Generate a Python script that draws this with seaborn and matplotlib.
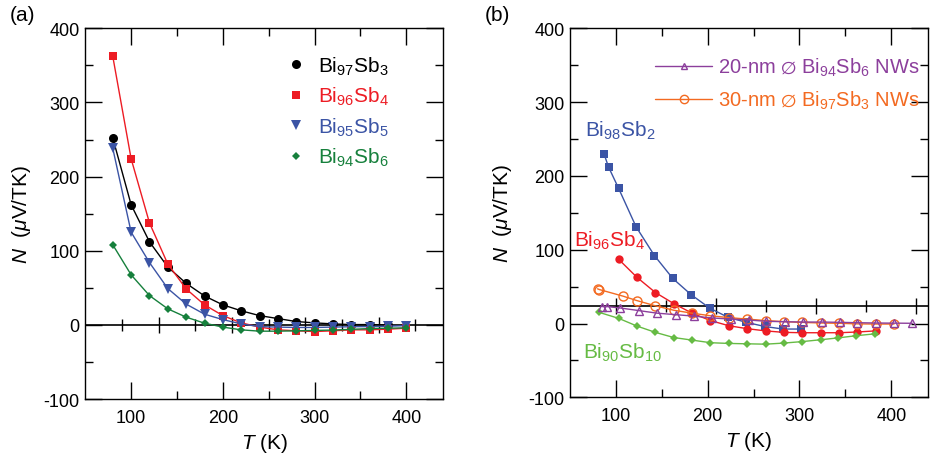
import matplotlib
matplotlib.use('Agg')
import matplotlib.pyplot as plt
import seaborn as sns
import pandas as pd
from matplotlib.lines import Line2D

# ---------------- data: panel (a) ----------------
T_a = [80, 100, 120, 140, 160, 180, 200, 220, 240, 260, 280, 300, 320, 340, 360, 380, 400]
N_bi97sb3 = [252, 162, 112, 78, 56, 39, 27, 19, 12.5, 8.5, 4.5, 2.7, 1.3, 0.4, 0.4, 0]
N_bi96sb4 = [362, 224, 137.5, 82, 48.5, 27, 12.5, 2.7, -3, -6.7, -8, -9, -8, -6.7, -6.7, -5.8, -4.5]
N_bi95sb5 = [238, 125, 84, 49, 28, 14.4, 7.1, 1.3, -2.3, -3, -3.5, -3.5, -3, -2.5, -2.3, -1.8, -1]
N_bi94sb6 = [108, 67.5, 39.5, 21.6, 10.4, 2.3, -3, -6.7, -8.5, -8.5, -8, -7.5, -7, -6, -5, -4.5, -4]
labels_a = ['Bi$_{97}$Sb$_3$', 'Bi$_{96}$Sb$_4$', 'Bi$_{95}$Sb$_5$', 'Bi$_{94}$Sb$_6$']

# ---------------- data: panel (b) ----------------
T_b98 = [87, 92, 103, 122, 142, 162, 182, 202, 222, 242, 262, 282, 302]
N_b98 = [230, 212, 183, 131, 92, 61, 39, 21, 8.5, 1.6, -4, -7.5, -7.5]
T_b96 = [103, 123, 143, 163, 183, 203, 223, 243, 263, 283, 303, 323, 343, 363, 383]
N_b96 = [87, 62.5, 42, 27, 14, 4, -3, -7, -10, -12, -12.5, -12.5, -12.5, -11.5, -10]
T_b90 = [82, 103, 123, 143, 163, 183, 203, 223, 243, 263, 283, 303, 323, 342, 362, 382]
N_b90 = [15, 7, -3.5, -12, -19, -22.5, -26, -27, -27.5, -28, -26.5, -24.5, -22, -19.5, -16.5, -14]
T_nw20 = [85, 90, 105, 125, 145, 165, 185, 205, 225, 245, 264, 284, 304, 324, 344, 363, 383, 403, 423]
N_nw20 = [23, 23, 21, 17.5, 14, 12, 10, 7.5, 6, 4.7, 3, 2.4, 2, 2, 1.6, 1.1, 0.7, 0.5, 0.3]
T_nw30 = [80, 82, 108, 123, 143, 163, 183, 203, 223, 243, 263, 283, 303, 323, 343, 363, 383, 403]
N_nw30 = [47, 46, 37, 31, 24, 18, 14, 10.5, 8, 6, 4, 2.5, 1.5, 0.7, 0.3, -0.5, -0.7, -0.7]
labels_b = ['20-nm $\\emptyset$ Bi$_{94}$Sb$_6$ NWs', '30-nm $\\emptyset$ Bi$_{97}$Sb$_3$ NWs']

# reference line levels and their tick positions
zero_a = 0
ref_b = 24
reftick_a_major = [130, 210, 290, 370]
reftick_a_minor = [90, 170, 250, 330, 410]
reftick_b_major = [100, 209, 318, 427]
reftick_b_minor = [154.5, 263.5, 372.5]

# ---------------- style ----------------
sns.set_theme(style='ticks', rc={'text.color': 'black', 'axes.labelcolor': 'black',
                                 'xtick.color': 'black', 'ytick.color': 'black',
                                 'axes.edgecolor': 'black'})
plt.rcParams['font.family'] = ['Liberation Sans', 'DejaVu Sans']
plt.rcParams['mathtext.fontset'] = 'custom'
plt.rcParams['mathtext.rm'] = 'Liberation Sans'
plt.rcParams['mathtext.it'] = 'Liberation Sans:italic'
plt.rcParams['mathtext.bf'] = 'Liberation Sans:bold'
plt.rcParams['mathtext.fallback'] = 'stix'
plt.rcParams['axes.unicode_minus'] = False

C_BLACK = '#000000'
C_RED = '#ed1c24'
C_BLUE = '#3b54a5'
C_DGREEN = '#16803c'
C_ORANGE = '#f36a21'
C_PURPLE = '#8c3f9c'
C_LGREEN = '#66bb44'

fig = plt.figure(figsize=(9.32, 4.6), dpi=100)
axa = fig.add_axes([0.0915, 0.1304, 0.3838, 0.8059])
axb = fig.add_axes([0.6116, 0.1341, 0.3841, 0.8022])


def style_axes(ax, ylab_x):
    ax.set_xlim(50, 440)
    ax.set_ylim(-100, 400)
    ax.set_xticks([100, 200, 300, 400])
    ax.set_xticks([150, 250, 350], minor=True)
    ax.set_yticks([-100, 0, 100, 200, 300, 400])
    ax.set_yticks([-50, 50, 150, 250, 350], minor=True)
    ax.tick_params(which='both', direction='in', top=True, right=True, width=1.0)
    ax.tick_params(which='major', length=12)
    ax.tick_params(which='minor', length=6)
    ax.tick_params(axis='x', labelsize=13, pad=7)
    ax.tick_params(axis='y', labelsize=13, pad=4)
    for s in ax.spines.values():
        s.set_linewidth(1.0)
    ax.set_xlabel('$T$ (K)', fontsize=15)
    ax.set_ylabel('$N$  ($\\mu$V/TK)', fontsize=15)
    ax.xaxis.set_label_coords(0.5, -0.085)
    ax.yaxis.set_label_coords(ylab_x, 0.5)


def ref_line(ax, level, major, minor):
    ax.axhline(level, color='black', lw=1.2, zorder=1)
    frac = (level - ax.get_ylim()[0]) / (ax.get_ylim()[1] - ax.get_ylim()[0])
    sec = ax.secondary_xaxis(frac)
    sec.spines['bottom'].set_visible(False)
    sec.spines['top'].set_visible(False)
    sec.set_xticks(major)
    sec.set_xticks(minor, minor=True)
    sec.tick_params(which='both', direction='inout', labelbottom=False, labeltop=False,
                    width=1.0, color='black')
    sec.tick_params(which='major', length=12)
    sec.tick_params(which='minor', length=8)


# ---------------- panel (a) ----------------
style_axes(axa, -0.147)
series_a = [
    (T_a[:len(N_bi97sb3)], N_bi97sb3, C_BLACK, 'o', 6.5),
    (T_a, N_bi96sb4, C_RED, 's', 6),
    (T_a, N_bi95sb5, C_BLUE, 'v', 6.5),
    (T_a, N_bi94sb6, C_DGREEN, 'D', 4.5),
]
for x, y, c, m, ms in series_a:
    df = pd.DataFrame({'T': x, 'N': y})
    sns.lineplot(data=df, x='T', y='N', ax=axa, color=c, lw=1.0, marker=m,
                 markersize=ms, markeredgewidth=0, markeredgecolor=c, zorder=3)
ref_line(axa, zero_a, reftick_a_major, reftick_a_minor)
handles_a = [Line2D([], [], ls='none', marker=m, color=c, markersize=ms, markeredgewidth=0)
             for _, _, c, m, ms in series_a]
axa.legend(handles_a, labels_a, loc='upper left', bbox_to_anchor=(0.56, 0.93),
           frameon=False, fontsize=15, handlelength=1.0, handletextpad=0.55,
           labelspacing=0.40, borderaxespad=0, borderpad=0, labelcolor='linecolor')

# ---------------- panel (b) ----------------
style_axes(axb, -0.157)
series_b = [
    (T_b98, N_b98, C_BLUE, 's', 5.5, C_BLUE),
    (T_b96, N_b96, C_RED, 'o', 6, C_RED),
    (T_b90, N_b90, C_LGREEN, 'D', 4, C_LGREEN),
    (T_nw30, N_nw30, C_ORANGE, 'o', 6.5, 'none'),
    (T_nw20, N_nw20, C_PURPLE, '^', 6, 'none'),
]
for x, y, c, m, ms, fc in series_b:
    df = pd.DataFrame({'T': x, 'N': y})
    sns.lineplot(data=df, x='T', y='N', ax=axb, color=c, lw=1.0, marker=m,
                 markersize=ms, markerfacecolor=fc, markeredgecolor=c,
                 markeredgewidth=(1.0 if fc == 'none' else 0), zorder=3, sort=False)
ref_line(axb, ref_b, reftick_b_major, reftick_b_minor)
handles_b = [Line2D([], [], color=C_PURPLE, lw=1.0, marker='^', markersize=5,
                    markerfacecolor='none', markeredgewidth=1.0),
             Line2D([], [], color=C_ORANGE, lw=1.0, marker='o', markersize=6,
                    markerfacecolor='none', markeredgewidth=1.0)]
axb.legend(handles_b, labels_b, loc='upper left', bbox_to_anchor=(0.237, 0.925),
           frameon=False, fontsize=14.5, handlelength=2.85, handletextpad=0.3,
           labelspacing=0.52, borderaxespad=0, borderpad=0, labelcolor='linecolor')

axb.text(66, 263, 'Bi$_{98}$Sb$_2$', color=C_BLUE, fontsize=15, ha='left', va='center')
axb.text(54, 114, 'Bi$_{96}$Sb$_4$', color=C_RED, fontsize=15, ha='left', va='center')
axb.text(64, -38, 'Bi$_{90}$Sb$_{10}$', color=C_LGREEN, fontsize=15, ha='left', va='center')

fig.text(10 / 932, 1 - 6 / 460, '(a)', fontsize=15, ha='left', va='top')
fig.text(485 / 932, 1 - 6 / 460, '(b)', fontsize=15, ha='left', va='top')

fig.savefig('out.png', dpi=100)
